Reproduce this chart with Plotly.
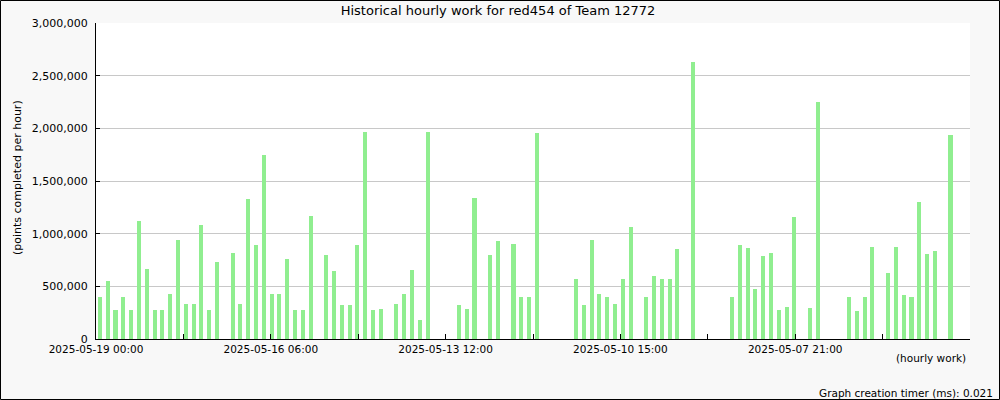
import plotly.graph_objects as go

# Values per 3-hour slot, left to right (0 = no bar)
slot_values = [
    400000, 550000, 280000, 400000, 280000, 1125000, 660000, 275000, 275000, 425000,
    937000, 330000, 330000, 1080000, 275000, 730000, 0, 815000, 330000, 1326000,
    890000, 1744000, 425000, 425000, 757000, 273000, 273000, 1165000, 0, 795000,
    643000, 320000, 320000, 890000, 1962000, 273000, 283000, 0, 330000, 425000,
    653000, 178000, 1962000, 0, 0, 0, 320000, 283000, 1336000, 0,
    795000, 928000, 0, 900000, 397000, 397000, 1953000, 0, 0, 0,
    0, 567000, 320000, 937000, 425000, 397000, 330000, 565000, 1067000, 0,
    397000, 602000, 565000, 565000, 850000, 0, 2633000, 0, 0, 0,
    0, 397000, 897000, 868000, 470000, 792000, 821000, 280000, 300000, 1156000,
    0, 290000, 2253000, 0, 0, 0, 395000, 270000, 395000, 877000,
    0, 630000, 877000, 422000, 395000, 1305000, 811000, 840000, 0, 1940000,
    0, 0,
]
x_labels = ["2025-05-19 00:00", "2025-05-16 06:00", "2025-05-13 12:00",
            "2025-05-10 15:00", "2025-05-07 21:00"]
y_ticks = [0, 500000, 1000000, 1500000, 2000000, 2500000, 3000000]

n_slots = len(slot_values)
slots = list(range(n_slots))
step = n_slots / 10.0
tickvals = [-0.5 + step * k for k in range(10)]
ticktext = [x_labels[k // 2] if k % 2 == 0 else "" for k in range(10)]

FONT = "DejaVu Sans"

fig = go.Figure()
fig.add_trace(go.Bar(
    x=slots, y=slot_values, width=0.52,
    marker=dict(color="#90ee90", line=dict(width=0)),
    hoverinfo="skip",
))

L, R, T, B = 96, 30, 23, 61
W, H = 1000, 400
pw, ph = W - L - R, H - T - B

fig.update_layout(
    width=W, height=H,
    margin=dict(l=L, r=R, t=T, b=B, pad=0),
    paper_bgcolor="#f8f8f8",
    plot_bgcolor="#ffffff",
    showlegend=False,
    bargap=0,
    font=dict(family=FONT, size=11, color="#000000"),
    title=dict(text="Historical hourly work for red454 of Team 12772",
               x=0.498, xanchor="center", y=1 - 10.5 / H, yanchor="middle",
               font=dict(family=FONT, size=13, color="#000000")),
    xaxis=dict(
        range=[-0.5, n_slots - 0.5],
        tickmode="array", tickvals=tickvals, ticktext=ticktext,
        ticks="inside", ticklen=5, tickwidth=1, tickcolor="#000000",
        showline=True, linecolor="#000000", linewidth=1,
        showgrid=False, zeroline=False,
        tickfont=dict(family=FONT, size=10.5),
        fixedrange=True,
    ),
    yaxis=dict(
        range=[0, 3000000],
        tickmode="array", tickvals=y_ticks,
        tickformat=",",
        ticks="inside", ticklen=4, tickwidth=1, tickcolor="#000000",
        showline=True, linecolor="#000000", linewidth=1,
        showgrid=True, gridcolor="#c8c8c8", gridwidth=1,
        zeroline=False,
        tickfont=dict(family=FONT, size=11),
        ticklabelstandoff=5,
        fixedrange=True,
    ),
)

def px_x(px):
    return (px - L) / pw

def px_y(py):
    return (H - B - py) / ph

fig.add_annotation(text="(points completed per hour)", textangle=-90,
                   x=px_x(18), y=px_y(178), xref="paper", yref="paper",
                   xanchor="center", yanchor="middle", showarrow=False,
                   font=dict(family=FONT, size=11))
fig.add_annotation(text="(hourly work)",
                   x=px_x(968), y=px_y(358), xref="paper", yref="paper",
                   xanchor="right", yanchor="middle", showarrow=False,
                   font=dict(family=FONT, size=10.5))
fig.add_annotation(text="Graph creation timer (ms): 0.021",
                   x=px_x(995), y=px_y(393), xref="paper", yref="paper",
                   xanchor="right", yanchor="middle", showarrow=False,
                   font=dict(family=FONT, size=10.5))

fig.add_shape(type="rect", xref="paper", yref="paper",
              x0=px_x(0.5), x1=px_x(999.5), y0=px_y(399.5), y1=px_y(0.5),
              line=dict(color="#000000", width=1), fillcolor="rgba(0,0,0,0)",
              layer="above")

fig.write_html("out.html", config={"displayModeBar": False},
               post_script="document.body.style.margin='0';document.body.style.overflow='hidden';")
